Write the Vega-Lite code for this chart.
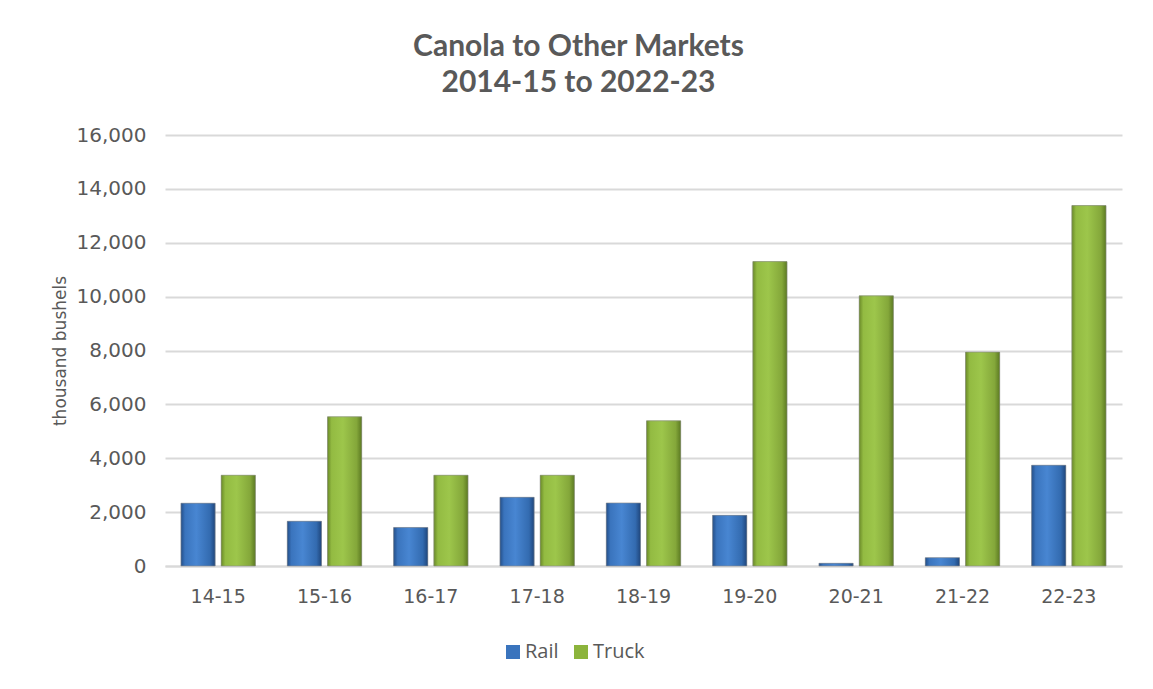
{
  "$schema": "https://vega.github.io/schema/vega-lite/v6.json",
  "width": 957,
  "height": 431,
  "autosize": {"type": "none"},
  "padding": {"left": 165, "top": 135, "right": 31, "bottom": 123},
  "background": "#ffffff",
  "title": {
    "text": ["Canola to Other Markets", "2014-15 to 2022-23"],
    "font": "Lato",
    "fontSize": 30,
    "fontWeight": "bold",
    "color": "#595959",
    "lineHeight": 36,
    "offset": 27,
    "anchor": "middle",
    "dx": -65
  },
  "data": {
    "values": [
      {"season": "14-15", "mode": "Rail", "value": 2330},
      {"season": "14-15", "mode": "Truck", "value": 3370},
      {"season": "15-16", "mode": "Rail", "value": 1660},
      {"season": "15-16", "mode": "Truck", "value": 5540},
      {"season": "16-17", "mode": "Rail", "value": 1430},
      {"season": "16-17", "mode": "Truck", "value": 3370},
      {"season": "17-18", "mode": "Rail", "value": 2550},
      {"season": "17-18", "mode": "Truck", "value": 3370},
      {"season": "18-19", "mode": "Rail", "value": 2340},
      {"season": "18-19", "mode": "Truck", "value": 5390},
      {"season": "19-20", "mode": "Rail", "value": 1880},
      {"season": "19-20", "mode": "Truck", "value": 11300},
      {"season": "20-21", "mode": "Rail", "value": 100},
      {"season": "20-21", "mode": "Truck", "value": 10030},
      {"season": "21-22", "mode": "Rail", "value": 310},
      {"season": "21-22", "mode": "Truck", "value": 7940},
      {"season": "22-23", "mode": "Rail", "value": 3740},
      {"season": "22-23", "mode": "Truck", "value": 13380}
    ]
  },
  "encoding": {
    "x": {
      "field": "season",
      "type": "nominal",
      "sort": null,
      "scale": {"paddingInner": 0.3, "paddingOuter": 0.15},
      "axis": {
        "title": null,
        "labelAngle": 0,
        "labelFont": "DejaVu Sans",
        "labelFontSize": 19,
        "labelFontWeight": "normal",
        "labelColor": "#595959",
        "labelPadding": 21,
        "ticks": false,
        "domainColor": "#d9d9d9",
        "domainWidth": 2
      }
    },
    "xOffset": {
      "field": "mode",
      "type": "nominal",
      "scale": {"domain": ["Rail", "Truck"], "paddingInner": 0.15}
    },
    "y": {
      "field": "value",
      "type": "quantitative",
      "scale": {"domain": [0, 16000]},
      "axis": {
        "title": "thousand bushels",
        "titleFont": "DejaVu Sans",
        "titleFontSize": 17,
        "titleFontWeight": "normal",
        "titleColor": "#595959",
        "titlePadding": 7,
        "labelFont": "DejaVu Sans",
        "labelFontSize": 20,
        "labelFontWeight": "normal",
        "labelColor": "#595959",
        "labelPadding": 19,
        "values": [0, 2000, 4000, 6000, 8000, 10000, 12000, 14000, 16000],
        "format": ",d",
        "ticks": false,
        "domain": false,
        "gridColor": "#d9d9d9",
        "gridWidth": 2
      }
    }
  },
  "layer": [
    {
      "mark": {"type": "bar"},
      "encoding": {
        "color": {
          "field": "mode",
          "type": "nominal",
          "scale": {"domain": ["Rail", "Truck"], "range": ["#3a74bd", "#8cb43c"]},
          "legend": {
            "title": null,
            "orient": "none",
            "direction": "horizontal",
            "legendX": 338,
            "legendY": 507,
            "symbolType": "square",
            "symbolSize": 196,
            "symbolStrokeWidth": 0,
            "labelFont": "Open Sans",
            "labelFontSize": 20,
            "labelColor": "#595959",
            "labelOffset": 2,
            "columnPadding": 12
          }
        }
      }
    },
    {
      "transform": [{"filter": "datum.mode === 'Rail'"}],
      "mark": {
        "type": "bar",
        "stroke": "#8a8a8a",
        "strokeWidth": 0.6,
        "color": {"gradient": "linear", "x1": 0, "y1": 0, "x2": 1, "y2": 0,
          "stops": [
            {"offset": 0, "color": "#234e88"},
            {"offset": 0.12, "color": "#3a74bd"},
            {"offset": 0.45, "color": "#4886d2"},
            {"offset": 0.85, "color": "#336bb0"},
            {"offset": 1, "color": "#1f467c"}
          ]}
      }
    },
    {
      "transform": [{"filter": "datum.mode === 'Truck'"}],
      "mark": {
        "type": "bar",
        "stroke": "#8a8a8a",
        "strokeWidth": 0.6,
        "color": {"gradient": "linear", "x1": 0, "y1": 0, "x2": 1, "y2": 0,
          "stops": [
            {"offset": 0, "color": "#6a8a28"},
            {"offset": 0.12, "color": "#93bb42"},
            {"offset": 0.45, "color": "#9dc64b"},
            {"offset": 0.85, "color": "#84a73a"},
            {"offset": 1, "color": "#5c7a22"}
          ]}
      }
    }
  ],
  "config": {
    "view": {"stroke": null}
  }
}
